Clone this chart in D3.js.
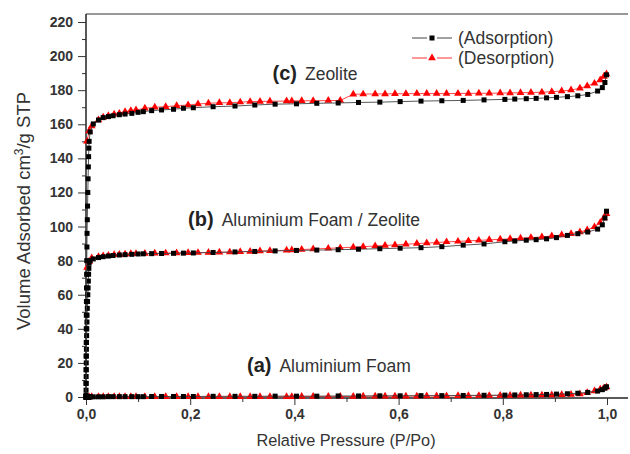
<!DOCTYPE html>
<html>
<head>
<meta charset="utf-8">
<script src="https://cdn.jsdelivr.net/npm/d3@7"></script>
<style>
  body { margin: 0; background: #fff; }
  text { font-family: "Liberation Sans", Arial, sans-serif; }
</style>
</head>
<body>
<script>
// relative pressure of the adsorption points (shared by the three samples)
const adsX = [0.00005, 0.0001, 0.0002, 0.0003, 0.0004, 0.0005, 0.0006, 0.0008, 0.001, 0.0012,
  0.0015, 0.0018, 0.002, 0.0025, 0.003, 0.0035, 0.004, 0.0045, 0.005, 0.0055, 0.006,
  0.008, 0.014, 0.024, 0.033, 0.043, 0.052, 0.064, 0.075, 0.088, 0.100, 0.110, 0.126,
  0.145, 0.168, 0.187, 0.206, 0.244, 0.286, 0.324, 0.363, 0.404, 0.443, 0.484, 0.523,
  0.564, 0.603, 0.643, 0.683, 0.724, 0.764, 0.804, 0.823, 0.845, 0.864, 0.884, 0.903,
  0.924, 0.944, 0.963, 0.982, 0.991, 0.996, 0.999];

const zeoliteAds = [1, 8, 16, 24, 32, 40, 48, 56, 64, 72,
  80, 88, 96, 104, 112, 120, 128, 135, 141, 146, 150,
  155.5, 160.2, 162.5, 163.9, 164.5, 165, 165.6, 166, 166.4, 167, 167.4, 168,
  168.4, 168.8, 169.4, 169.7, 170.3, 170.7, 171.3, 171.8, 172, 172.3, 172.5, 172.8,
  173, 173.3, 173.6, 173.8, 174, 174.3, 174.6, 174.8, 175, 175.2, 175.5, 175.8,
  176.2, 176.7, 177.5, 179.5, 181.5, 184.5, 189];

const foamZeoliteAds = [0.5, 4, 8, 12, 16, 20, 24, 28, 32, 36,
  40, 44, 48, 52, 56, 60, 64, 68, 72, 75.5, 78.5,
  80, 81, 81.8, 82.3, 82.7, 83, 83.3, 83.5, 83.7, 83.9, 84, 84.1,
  84.2, 84.3, 84.4, 84.5, 84.8, 85.1, 85.4, 85.7, 86, 86.2, 86.4, 86.7,
  87, 87.3, 87.6, 88.2, 89.1, 89.8, 91.1, 91.5, 92, 92.3, 92.8, 93.5,
  94.8, 95.8, 96.8, 98.5, 101, 105, 109];

const foamAds = [0, 0, 0, 0, 0, 0, 0, 0, 0, 0,
  0, 0, 0, 0, 0, 0, 0, 0, 0, 0.1, 0.1,
  0.1, 0.1, 0.1, 0.1, 0.2, 0.2, 0.2, 0.2, 0.2, 0.2, 0.2, 0.3,
  0.3, 0.3, 0.3, 0.3, 0.4, 0.4, 0.4, 0.5, 0.5, 0.5, 0.6, 0.6,
  0.7, 0.7, 0.8, 0.8, 0.9, 1.0, 1.1, 1.2, 1.3, 1.4, 1.5, 1.7,
  1.9, 2.2, 2.7, 3.5, 4.3, 5.2, 6];

// relative pressure of the desorption points
const desX = [0.002, 0.006, 0.011, 0.024, 0.033, 0.043, 0.054, 0.064, 0.075, 0.086, 0.096,
  0.113, 0.132, 0.153, 0.174, 0.196, 0.215, 0.235, 0.256, 0.276, 0.296, 0.315, 0.334,
  0.353, 0.385, 0.395, 0.414, 0.436, 0.465, 0.488, 0.513, 0.532, 0.555, 0.574, 0.593,
  0.614, 0.635, 0.654, 0.673, 0.692, 0.714, 0.734, 0.754, 0.774, 0.795, 0.814, 0.834,
  0.854, 0.875, 0.894, 0.913, 0.931, 0.948, 0.962, 0.976, 0.987, 0.994, 0.999];

const zeoliteDes = [150, 156, 159, 162.5, 164.1, 165, 165.9, 166.4, 167.4, 168, 168.4,
  169.4, 170, 170.3, 170.9, 171.3, 171.9, 172.3, 172.6, 172.6, 173, 173.3, 173.4,
  173.5, 173.6, 173.7, 173.8, 173.8, 173.9, 174, 177.6, 177.7, 177.8, 177.8, 177.9,
  177.9, 178, 178, 178, 178, 178.1, 178.1, 178.2, 178.2, 178.3, 178.4, 178.5,
  178.6, 178.8, 179.1, 179.5, 180.1, 181.1, 182.5, 184, 186, 188, 189.5];

const foamZeoliteDes = [76, 79.5, 81.5, 82.3, 82.8, 83.1, 83.4, 83.6, 83.8, 84, 84.1,
  84.2, 84.3, 84.4, 84.5, 84.6, 84.7, 84.8, 84.9, 85, 85.2, 85.4, 85.6,
  85.8, 86.1, 86.2, 86.5, 86.8, 87.2, 87.5, 87.9, 88.2, 88.6, 88.9, 89.2,
  89.6, 90, 90.3, 90.6, 91, 91.3, 91.6, 91.9, 92.2, 92.5, 92.8, 93.1,
  93.5, 93.9, 94.4, 95, 95.8, 96.8, 98, 99.8, 102.3, 105, 107.5];

const foamDes = [0, 0, 0.1, 0.1, 0.1, 0.1, 0.1, 0.1, 0.1, 0.1, 0.1,
  0.1, 0.1, 0.1, 0.1, 0.1, 0.1, 0.1, 0.1, 0.1, 0.1, 0.1, 0.2,
  0.2, 0.2, 0.2, 0.3, 0.3, 0.3, 0.3, 0.3, 0.4, 0.4, 0.4, 0.5,
  0.5, 0.5, 0.6, 0.6, 0.6, 0.7, 0.7, 0.8, 0.8, 0.9, 0.9, 1.0,
  1.0, 1.1, 1.2, 1.3, 1.5, 1.8, 2.5, 3.5, 4.5, 5.2, 5.8];

const xTicks = [0, 0.2, 0.4, 0.6, 0.8, 1.0];
const yTicks = [0, 20, 40, 60, 80, 100, 120, 140, 160, 180, 200, 220];

const labels = [
  { tag: "(c)", name: "Zeolite", x: 0.358, y: 186 },
  { tag: "(b)", name: "Aluminium Foam / Zeolite", x: 0.196, y: 100.5 },
  { tag: "(a)", name: "Aluminium Foam", x: 0.309, y: 14.8 }
];

const width = 630, height = 454;
const margin = { left: 86, right: 2, top: 14, bottom: 56 };

const svg = d3.select("body").append("svg")
  .attr("width", width)
  .attr("height", height);

const x = d3.scaleLinear().domain([0, 1]).range([86, 607]);
const y = d3.scaleLinear().domain([0, 220]).range([397, 22]);

const plotRight = width - margin.right;
const plotBottom = 398;

// frame: top line
svg.append("line")
  .attr("x1", margin.left).attr("x2", plotRight)
  .attr("y1", margin.top).attr("y2", margin.top)
  .attr("stroke", "#333").attr("stroke-width", 1.2);

const comma = d => d3.format(".1f")(d).replace(".", ",");

// x axis
const xAxis = svg.append("g")
  .attr("transform", `translate(0,${plotBottom})`)
  .call(d3.axisBottom(x).tickValues(xTicks).tickSize(7).tickPadding(4).tickSizeOuter(0).tickFormat(comma));
xAxis.select(".domain").attr("d", `M${margin.left},0H${plotRight}`);
svg.append("g")
  .attr("transform", `translate(0,${plotBottom})`)
  .call(d3.axisBottom(x).tickValues([0.1, 0.3, 0.5, 0.7, 0.9]).tickSize(4).tickFormat(""))
  .select(".domain").remove();

// y axis
const yAxis = svg.append("g")
  .attr("transform", `translate(${margin.left},0)`)
  .call(d3.axisLeft(y).tickValues(yTicks).tickSize(8).tickPadding(5).tickSizeOuter(0));
yAxis.select(".domain").attr("d", `M0,${margin.top}V${plotBottom}`);
svg.append("g")
  .attr("transform", `translate(${margin.left},0)`)
  .call(d3.axisLeft(y).tickValues(d3.range(10, 220, 20)).tickSize(4).tickFormat(""))
  .select(".domain").remove();

svg.selectAll(".domain").attr("stroke", "#222").attr("stroke-width", 1.5);
svg.selectAll(".tick line").attr("stroke", "#333");
svg.selectAll(".tick text")
  .attr("fill", "#333")
  .style("font-size", "14px")
  .style("font-weight", "bold");

// axis titles
svg.append("text")
  .attr("x", 346).attr("y", 446)
  .attr("text-anchor", "middle")
  .attr("fill", "#333")
  .style("font-size", "16.3px")
  .text("Relative Pressure (P/Po)");

const yTitle = svg.append("text")
  .attr("transform", "translate(30,211) rotate(-90)")
  .attr("text-anchor", "middle")
  .attr("fill", "#333")
  .style("font-size", "18.5px");
yTitle.append("tspan").text("Volume Adsorbed cm");
yTitle.append("tspan").attr("dy", -7).style("font-size", "12px").text("3");
yTitle.append("tspan").attr("dy", 7).text("/g STP");

// series
const series = [
  { xs: adsX, ys: foamAds, kind: "ads" },
  { xs: desX, ys: foamDes, kind: "des" },
  { xs: adsX, ys: foamZeoliteAds, kind: "ads" },
  { xs: desX, ys: foamZeoliteDes, kind: "des" },
  { xs: adsX, ys: zeoliteAds, kind: "ads" },
  { xs: desX, ys: zeoliteDes, kind: "des" }
];

const line = d3.line().x(d => x(d[0])).y(d => y(d[1]));
const tri = d3.symbol().type(d3.symbolTriangle).size(26);

// draw desorption first, adsorption squares on top
["des", "ads"].forEach(kind => {
  series.filter(s => s.kind === kind).forEach(s => {
    const pts = s.xs.map((v, i) => [v, s.ys[i]]);
    const col = kind === "ads" ? "#000" : "#f00";
    svg.append("path")
      .datum(pts)
      .attr("d", line)
      .attr("fill", "none")
      .attr("stroke", kind === "ads" ? "#444" : "#f33")
      .attr("stroke-width", 0.9);
    if (kind === "ads") {
      svg.append("g").selectAll("rect")
        .data(pts).enter().append("rect")
        .attr("x", d => x(d[0]) - 2.5)
        .attr("y", d => y(d[1]) - 2.5)
        .attr("width", 5).attr("height", 5)
        .attr("fill", col);
    } else {
      svg.append("g").selectAll("path")
        .data(pts).enter().append("path")
        .attr("d", tri)
        .attr("transform", d => `translate(${x(d[0])},${y(d[1])})`)
        .attr("fill", col);
    }
  });
});

// sample labels
labels.forEach(l => {
  const t = svg.append("text")
    .attr("x", x(l.x)).attr("y", y(l.y))
    .attr("fill", "#222");
  t.append("tspan").style("font-size", "20px").style("font-weight", "bold").text(l.tag);
  t.append("tspan").attr("dx", 8).style("font-size", "17.5px").attr("fill", "#333").text(l.name);
});

// legend
const legend = [
  { label: "(Adsorption)", color: "#000", line: "#444", kind: "ads", y: 38 },
  { label: "(Desorption)", color: "#f00", line: "#f33", kind: "des", y: 58 }
];
legend.forEach(l => {
  const g = svg.append("g").attr("transform", `translate(412,${l.y})`);
  g.append("line").attr("x1", 0).attr("x2", 15).attr("stroke", l.line);
  g.append("line").attr("x1", 25).attr("x2", 40).attr("stroke", l.line);
  if (l.kind === "ads") {
    g.append("rect").attr("x", 17.5).attr("y", -2.5).attr("width", 5).attr("height", 5).attr("fill", l.color);
  } else {
    g.append("path").attr("d", tri).attr("transform", "translate(20,0)").attr("fill", l.color);
  }
  g.append("text")
    .attr("x", 46).attr("y", 6)
    .attr("fill", "#333")
    .style("font-size", "17.5px")
    .text(l.label);
});
</script>
</body>
</html>
